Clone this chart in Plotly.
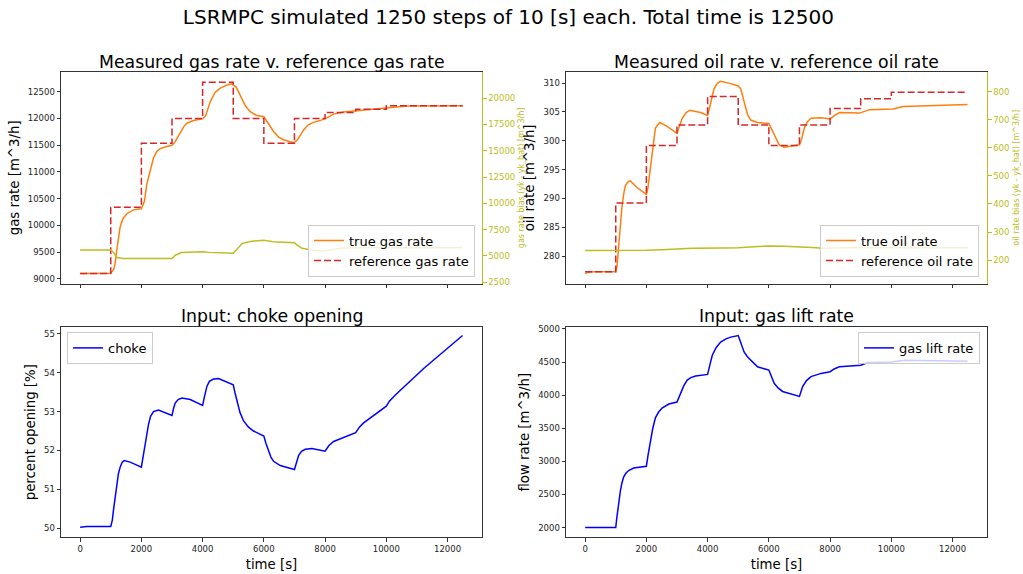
import plotly.graph_objects as go

# ---------------- data ----------------
ref_t = [0, 1000, 2000, 3000, 4000, 5000, 6000, 7000, 8000, 9000, 10000, 12490]
gas_ref = [9100, 10340, 11533, 12000, 12677, 12000, 11533, 12000, 12110, 12170, 12235, 12235]
oil_ref = [277.3, 289.2, 299.2, 302.75, 307.7, 302.75, 299.2, 302.75, 305.6, 307.3, 308.4, 308.4]

gas_t = [0, 1000, 1100, 1144, 1200, 1250, 1307, 1400, 1526, 1742, 2000, 2100, 2179, 2300, 2396, 2500,
         2614, 2800, 3000, 3100, 3200, 3268, 3400, 3486, 3700, 4000, 4100, 4248, 4400, 4575, 4800,
         4956, 5100, 5229, 5400, 5556, 5750, 6000, 6150, 6318, 6480, 6645, 6850, 7000, 7100, 7200,
         7298, 7450, 7625, 8000, 8150, 8279, 8600, 9000, 9300, 10022, 10675, 12490]
gas_true = [9100, 9105, 9180, 9295, 9550, 9780, 9970, 10130, 10218, 10290, 10310, 10450, 10770, 11050,
            11260, 11380, 11435, 11470, 11496, 11560, 11660, 11740, 11860, 11910, 11960, 11990, 12050,
            12310, 12480, 12565, 12625, 12645, 12580, 12430, 12230, 12125, 12060, 12030, 11900, 11755,
            11650, 11600, 11565, 11550, 11600, 11700, 11785, 11880, 11925, 11990, 12040, 12080, 12120,
            12140, 12165, 12200, 12230, 12235]

gas_bias_t = [0, 1000, 1100, 1200, 1400, 2000, 3000, 3100, 3300, 4000, 4200, 5000, 5100, 5300, 5600,
              5900, 6000, 6300, 7000, 7100, 7245, 7600, 7950, 8200, 8500, 9000, 12490]
gas_bias = [5570, 5570, 5300, 4850, 4750, 4725, 4750, 5050, 5320, 5410, 5340, 5260, 5600, 6200, 6400,
            6450, 6480, 6350, 6256, 6000, 5730, 5550, 5480, 5600, 5730, 5790, 5790]

oil_t = [0, 100, 300, 1000, 1040, 1093, 1150, 1202, 1260, 1311, 1400, 1475, 1694, 2000, 2050, 2131,
         2210, 2295, 2437, 2678, 3000, 3080, 3169, 3300, 3420, 3770, 4000, 4100, 4208, 4320, 4426,
         4700, 5000, 5082, 5191, 5300, 5410, 5629, 6000, 6175, 6338, 6502, 7000, 7080, 7158, 7260,
         7377, 7705, 8000, 8150, 8306, 8962, 9100, 9290, 10055, 10200, 10383, 12490]
oil_true = [276.97, 277.2, 277.3, 277.3, 278.2, 281.65, 285.3, 288.5, 290.8, 292.2, 292.9, 293.06,
            291.9, 290.7, 291.8, 295.3, 299.5, 302.2, 303.16, 302.5, 301.3, 302.6, 303.9, 304.9,
            305.3, 304.9, 304.4, 306.5, 309.0, 310.0, 310.3, 310.0, 309.5, 309.0, 306.7, 304.6,
            303.6, 303.16, 303.0, 301.05, 299.3, 298.9, 299.3, 300.5, 302.2, 303.3, 303.9, 304.0,
            303.8, 304.4, 304.9, 304.8, 305.1, 305.4, 305.5, 305.75, 305.94, 306.3]

oil_bias_t = [0, 1000, 1500, 2000, 2500, 3000, 3500, 4500, 5000, 5500, 6000, 6500, 7000, 7400, 7800,
              8500, 12490]
oil_bias = [234, 234, 235, 235, 237, 239, 242, 243, 244, 248, 250, 249, 248, 245, 242, 244, 244]

choke_t = [0, 218, 1000, 1050, 1090, 1140, 1198, 1250, 1307, 1370, 1438, 1634, 2000, 2060, 2124, 2180,
           2233, 2300, 2396, 2559, 3000, 3050, 3105, 3200, 3322, 3595, 4000, 4070, 4140, 4220, 4357,
           4520, 5000, 5060, 5120, 5220, 5338, 5500, 5664, 6000, 6070, 6154, 6230, 6318, 6536, 7000,
           7060, 7134, 7230, 7353, 7571, 8000, 8120, 8279, 9000, 9120, 9259, 10000, 10100, 10294,
           11220, 12490]
choke = [50.02, 50.04, 50.04, 50.2, 50.47, 50.8, 51.14, 51.4, 51.57, 51.69, 51.74, 51.70, 51.57,
         51.85, 52.16, 52.45, 52.67, 52.88, 53.0, 53.04, 52.90, 53.08, 53.22, 53.31, 53.35, 53.31,
         53.16, 53.42, 53.65, 53.78, 53.84, 53.85, 53.69, 53.48, 53.26, 52.98, 52.76, 52.6, 52.50,
         52.37, 52.18, 51.99, 51.83, 51.72, 51.61, 51.51, 51.7, 51.87, 51.98, 52.03, 52.05, 51.98,
         52.12, 52.23, 52.46, 52.6, 52.71, 53.14, 53.27, 53.43, 54.11, 54.96]

lift_t = [0, 1000, 1030, 1060, 1093, 1150, 1200, 1257, 1330, 1421, 1585, 2000, 2060, 2131, 2210, 2295,
          2400, 2514, 2732, 3000, 3060, 3115, 3220, 3334, 3450, 3607, 4000, 4080, 4154, 4280, 4426,
          4600, 4754, 5000, 5082, 5191, 5300, 5410, 5629, 6000, 6090, 6175, 6300, 6448, 7000, 7050,
          7103, 7230, 7377, 7705, 8000, 8150, 8306, 9000, 9100, 9235, 10000, 10200, 10437, 12490]
gas_lift = [2000, 2000, 2130, 2250, 2363, 2550, 2670, 2762, 2820, 2861, 2900, 2925, 3110, 3309, 3500,
            3657, 3745, 3806, 3866, 3896, 3960, 4030, 4140, 4229, 4265, 4289, 4314, 4470, 4603, 4720,
            4802, 4850, 4877, 4901, 4802, 4653, 4580, 4528, 4429, 4379, 4280, 4180, 4110, 4056, 3981,
            4050, 4130, 4220, 4280, 4329, 4354, 4400, 4429, 4453, 4475, 4493, 4503, 4515, 4528, 4513]

x_ticks = [0, 2000, 4000, 6000, 8000, 10000, 12000]

# ---------------- styling ----------------
W, H = 1023, 574
FONT = "DejaVu Sans"
ORANGE = "#ff7f0e"
RED = "#d62728"
OLIVE = "#bcbd22"
BLUE = "#0000ff"
AX = "#333333"

def px_x(a, b):
    return [a / W, b / W]

def px_y(top, bottom):
    return [1 - bottom / H, 1 - top / H]

XL, XR = px_x(61, 482), px_x(566, 987)
YT, YB = px_y(70, 284), px_y(328, 541)

fig = go.Figure()

# top-left
fig.add_trace(go.Scatter(x=gas_t, y=gas_true, mode="lines", name="true gas rate",
                         line=dict(color=ORANGE, width=1.5), xaxis="x", yaxis="y", legend="legend"))
fig.add_trace(go.Scatter(x=ref_t, y=gas_ref, mode="lines", name="reference gas rate",
                         line=dict(color=RED, width=1.5, dash="7px,3px", shape="hv"),
                         xaxis="x", yaxis="y", legend="legend"))
fig.add_trace(go.Scatter(x=gas_bias_t, y=gas_bias, mode="lines", showlegend=False,
                         line=dict(color=OLIVE, width=1.5), xaxis="x", yaxis="y2"))
# top-right
fig.add_trace(go.Scatter(x=oil_t, y=oil_true, mode="lines", name="true oil rate",
                         line=dict(color=ORANGE, width=1.5), xaxis="x2", yaxis="y3", legend="legend2"))
fig.add_trace(go.Scatter(x=ref_t, y=oil_ref, mode="lines", name="reference oil rate",
                         line=dict(color=RED, width=1.5, dash="7px,3px", shape="hv"),
                         xaxis="x2", yaxis="y3", legend="legend2"))
fig.add_trace(go.Scatter(x=oil_bias_t, y=oil_bias, mode="lines", showlegend=False,
                         line=dict(color=OLIVE, width=1.5), xaxis="x2", yaxis="y4"))
# bottom-left
fig.add_trace(go.Scatter(x=choke_t, y=choke, mode="lines", name="choke",
                         line=dict(color=BLUE, width=1.5), xaxis="x3", yaxis="y5", legend="legend3"))
# bottom-right
fig.add_trace(go.Scatter(x=lift_t, y=gas_lift, mode="lines", name="gas lift rate",
                         line=dict(color=BLUE, width=1.5), xaxis="x4", yaxis="y6", legend="legend4"))

tickfont = dict(family=FONT, size=8.5, color="#222")
titlefont = dict(family=FONT, size=13.3, color="#000")

def xax(domain, anchor, labels):
    return dict(domain=domain, anchor=anchor, range=[-625, 13125], tickvals=x_ticks,
                tickformat="d", showticklabels=labels, ticks="outside", ticklen=3.5, tickcolor=AX,
                showline=True, linecolor=AX, linewidth=1, mirror=True, showgrid=False,
                zeroline=False, tickfont=tickfont,
                title=dict(text="time [s]" if labels else "", font=titlefont, standoff=6))

def yax(domain, anchor, rng, dtick, title, mirror=True, standoff=5):
    return dict(domain=domain, anchor=anchor, range=rng, dtick=dtick, tickformat="d",
                ticks="outside", ticklen=3.5,
                tickcolor=AX, showline=True, linecolor=AX, linewidth=1, mirror=mirror,
                showgrid=False, zeroline=False, tickfont=tickfont,
                title=dict(text=title, font=titlefont, standoff=standoff))

def yax_twin(over, anchor, rng, dtick, title):
    return dict(overlaying=over, anchor=anchor, side="right", range=rng, dtick=dtick,
                tickformat="d", ticks="outside", ticklen=3.5, tickcolor=OLIVE, showline=True,
                linecolor=OLIVE, linewidth=1, showgrid=False, zeroline=False,
                tickfont=dict(family=FONT, size=8.5, color=OLIVE),
                title=dict(text=title, font=dict(family=FONT, size=8, color=OLIVE), standoff=4))

def legend(x, y, xanchor, yanchor):
    return dict(x=x, y=y, xanchor=xanchor, yanchor=yanchor, xref="paper", yref="paper",
                bgcolor="rgba(255,255,255,0.8)", bordercolor="#cccccc", borderwidth=1,
                font=dict(family=FONT, size=13, color="#000"), tracegroupgap=0, itemwidth=30)

fig.update_layout(
    width=W, height=H, margin=dict(l=0, r=0, t=0, b=0),
    paper_bgcolor="white", plot_bgcolor="white",
    font=dict(family=FONT, color="#000"),
    title=dict(text="LSRMPC simulated 1250 steps of 10 [s] each. Total time is 12500",
               x=0.497, xanchor="center", y=1 - 17 / H, yanchor="middle",
               font=dict(family=FONT, size=20, color="#000")),
    xaxis=xax(XL, "y", False),
    xaxis2=xax(XR, "y3", False),
    xaxis3=xax(XL, "y5", True),
    xaxis4=xax(XR, "y6", True),
    yaxis=yax(YT, "x", [8913, 12864], 500, "gas rate [m^3/h]", mirror=False),
    yaxis2=yax_twin("y", "x", [2378, 22470], 2500, "gas rate bias (yk - yk_hat) [m^3/h]"),
    yaxis3=yax(YT, "x2", [275.26, 311.9], 5, "oil rate [m^3/h]", mirror=False),
    yaxis4=yax_twin("y3", "x2", [116.7, 869], 100, "oil rate bias (yk - yk_hat) [m^3/h]"),
    yaxis5=yax(YB, "x3", [49.76, 55.18], 1, "percent opening [%]"),
    yaxis6=yax(YB, "x4", [1851, 5030], 500, "flow rate [m^3/h]"),
    legend=legend(475 / W, 1 - 277 / H, "right", "bottom"),
    legend2=legend(979 / W, 1 - 277 / H, "right", "bottom"),
    legend3=legend(67 / W, 1 - 333 / H, "left", "top"),
    legend4=legend(980 / W, 1 - 333 / H, "right", "top"),
    showlegend=True,
)

sub_titles = [
    ("Measured gas rate v. reference gas rate", (61 + 482) / 2, 60),
    ("Measured oil rate v. reference oil rate", (566 + 987) / 2, 60),
    ("Input: choke opening", (61 + 482) / 2, 317),
    ("Input: gas lift rate", (566 + 987) / 2, 317),
]
for text, cx, cy in sub_titles:
    fig.add_annotation(text=text, x=cx / W, y=1 - cy / H, xref="paper", yref="paper",
                       xanchor="center", yanchor="middle", showarrow=False,
                       font=dict(family=FONT, size=17.3, color="#000"))

fig.write_html("out.html")
